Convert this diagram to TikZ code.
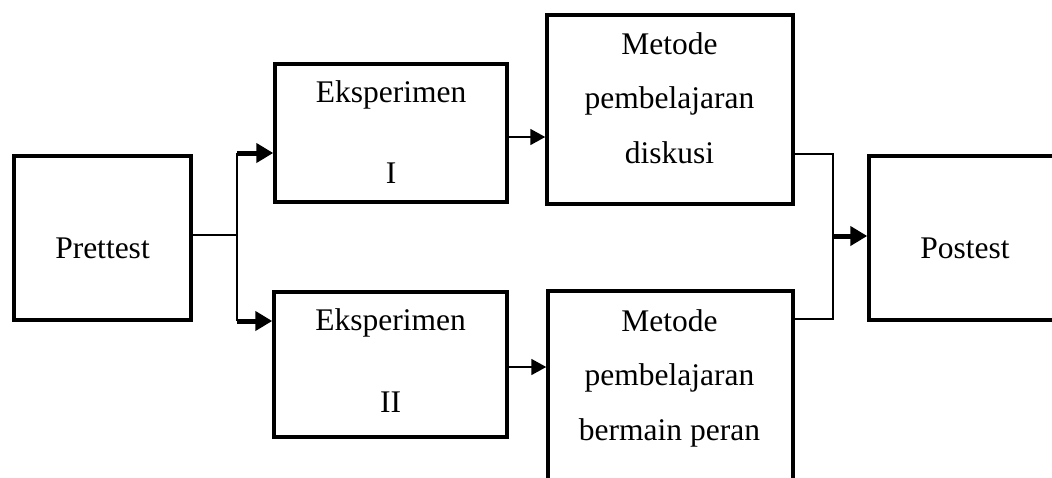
\documentclass[tikz,border=0pt]{standalone}
\usepackage{fontspec}
\setmainfont{Liberation Serif}
\usetikzlibrary{arrows.meta}

\tikzset{
  box/.style={draw, line width=3.5pt, rectangle, inner sep=0pt},
  label1/.style={font=\fontsize{31.5}{37}\selectfont, inner sep=0pt, anchor=base},
  labelwide/.style={font=\fontsize{31.5}{81.5}\selectfont, align=center, inner sep=0pt},
  labelmid/.style={font=\fontsize{31.5}{54.5}\selectfont, align=center, inner sep=0pt},
  thin/.style={line width=1.6pt},
  thinarrow/.style={line width=1.8pt, -{Triangle[length=15pt, width=16pt]}},
  thickarrow/.style={line width=5pt, -{Triangle[length=17pt, width=19pt]}}
}

\begin{document}
\begin{tikzpicture}[x=1pt, y=-1pt]
  \path[use as bounding box] (0,0) rectangle (1052,477);
  \clip (0,0) rectangle (1052,477);

  % boxes
  \node[box, minimum width=177pt, minimum height=164pt] (pre)  at (102.5,238) {};
  \node[box, minimum width=232pt, minimum height=138pt] (e1)   at (391,133)   {};
  \node[box, minimum width=233pt, minimum height=145pt] (e2)   at (390.5,364.5) {};
  \node[box, minimum width=246pt, minimum height=189pt] (m1)   at (670,109.5) {};
  \node[box, minimum width=245pt, minimum height=192pt] (m2)   at (670.5,387) {};
  \node[box, minimum width=193pt, minimum height=164pt] (post) at (965.5,238) {};

  % box texts
  \node[label1] (pret) at (102.5,258) {Prettest};
  \node[label1] (post-t) at (965,258) {Postest};
  \node[labelwide] (e1t) at (391,132.25) {Eksperimen\\I};
  \node[labelwide] (e2t) at (390.5,360.75) {Eksperimen\\II};
  \node[labelmid] (m1t) at (669.5,97.75) {Metode\\pembelajaran\\diskusi};
  \node[labelmid] (m2t) at (669.5,378.2) {Metode\\pembelajaran\\bermain peran};

  % split after the pretest
  \coordinate (j)  at (237,235);
  \coordinate (ju) at (237,153);
  \coordinate (jd) at (237,321);
  \draw[thin] (j -| pre.east) -- (j);
  \draw[thin] (ju) -- (jd);
  \draw[thickarrow] (ju) -- (ju -| e1.west);
  \draw[thickarrow] (jd) -- (jd -| e2.west);

  % experiment groups to their methods
  \draw[thinarrow] ([yshift=-4pt]e1.east) -- ([yshift=-4pt]e1.east -| m1.west);
  \draw[thinarrow] ([yshift=-2.5pt]e2.east) -- ([yshift=-2.5pt]e2.east -| m2.west);

  % merge into the posttest
  \coordinate (b1) at (833,154);
  \coordinate (b2) at (833,319);
  \coordinate (bm) at (833,236);
  \draw[thin, line width=1.8pt] (b1 -| m1.east) -- (b1) -- (b2) -- (b2 -| m2.east);
  \draw[thickarrow] (bm) -- (bm -| post.west);
\end{tikzpicture}
\end{document}
